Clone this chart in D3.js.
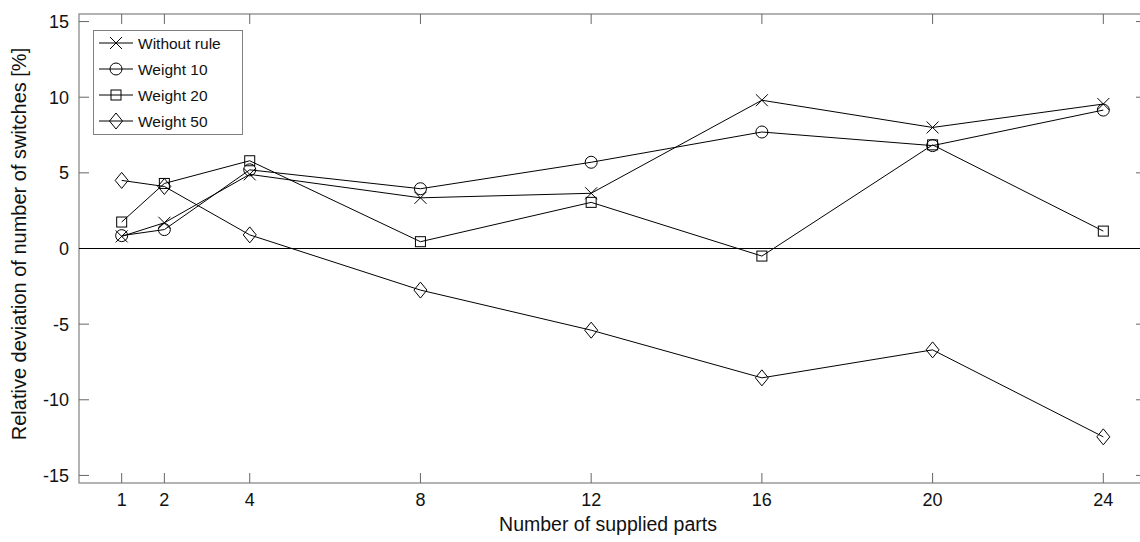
<!DOCTYPE html>
<html>
<head>
<meta charset="utf-8">
<script src="https://cdn.jsdelivr.net/npm/d3@7"></script>
<style>
  body { margin: 0; background: #fff; }
  text { font-family: "Liberation Sans", Arial, sans-serif; fill: #111; }
</style>
</head>
<body>
<script>
// data
var parts = [1, 2, 4, 8, 12, 16, 20, 24];
var withoutRule = [0.8, 1.7, 4.9, 3.35, 3.65, 9.8, 8.0, 9.55];
var weight10 = [0.85, 1.25, 5.2, 3.95, 5.7, 7.7, 6.8, 9.15];
var weight20 = [1.75, 4.3, 5.8, 0.45, 3.05, -0.5, 6.85, 1.15];
var weight50 = [4.5, 4.1, 0.9, -2.75, -5.4, -8.55, -6.7, -12.45];
var yTicks = [-15, -10, -5, 0, 5, 10, 15];

var series = [
    {name: "Without rule", values: withoutRule, marker: "x"},
    {name: "Weight 10", values: weight10, marker: "circle"},
    {name: "Weight 20", values: weight20, marker: "square"},
    {name: "Weight 50", values: weight50, marker: "diamond"}
];

var W = 1140, H = 542;
var margin = {top: 14, right: -6, bottom: 59, left: 79};

var svg = d3.select("body").append("svg")
    .attr("width", W)
    .attr("height", H);

var x = d3.scaleLinear().domain([0, 25]).range([margin.left, W - margin.right]);
var y = d3.scaleLinear().domain([-15.5, 15.5]).range([H - margin.bottom, margin.top]);

var plotLeft = x.range()[0], plotRight = x.range()[1];
var plotTop = y.range()[1], plotBottom = y.range()[0];
var tickLen = 10;

// box
svg.append("rect")
    .attr("x", plotLeft).attr("y", plotTop)
    .attr("width", plotRight - plotLeft).attr("height", plotBottom - plotTop)
    .attr("fill", "none").attr("stroke", "#808080").attr("stroke-width", 1.2);

// x ticks (inward, bottom and top)
var xt = svg.append("g");
parts.forEach(function (p) {
    xt.append("line").attr("x1", x(p)).attr("x2", x(p))
        .attr("y1", plotBottom).attr("y2", plotBottom - tickLen)
        .attr("stroke", "#666");
    xt.append("line").attr("x1", x(p)).attr("x2", x(p))
        .attr("y1", plotTop).attr("y2", plotTop + tickLen)
        .attr("stroke", "#666");
    xt.append("text").attr("x", x(p)).attr("y", 505.5)
        .attr("text-anchor", "middle").attr("font-size", 18)
        .text(p);
});

// y ticks (inward, left and right)
var yt = svg.append("g");
yTicks.forEach(function (v) {
    yt.append("line").attr("x1", plotLeft).attr("x2", plotLeft + tickLen)
        .attr("y1", y(v)).attr("y2", y(v)).attr("stroke", "#666");
    yt.append("line").attr("x1", plotRight).attr("x2", plotRight - tickLen)
        .attr("y1", y(v)).attr("y2", y(v)).attr("stroke", "#666");
    yt.append("text").attr("x", plotLeft - 10).attr("y", y(v) + 6.5)
        .attr("text-anchor", "end").attr("font-size", 18)
        .text(v);
});

// zero line
svg.append("line")
    .attr("x1", plotLeft).attr("x2", plotRight)
    .attr("y1", y(0)).attr("y2", y(0))
    .attr("stroke", "#000").attr("stroke-width", 1);

// axis labels
svg.append("text")
    .attr("x", 608).attr("y", 531)
    .attr("text-anchor", "middle").attr("font-size", 19.5)
    .text("Number of supplied parts");

svg.append("text")
    .attr("transform", "translate(26," + 244 + ") rotate(-90)")
    .attr("text-anchor", "middle").attr("font-size", 20)
    .text("Relative deviation of number of switches [%]");

function drawMarker(g, type, cx, cy) {
    if (type == "x") {
        g.append("path")
            .attr("d", "M" + (cx - 6) + "," + (cy - 6) + "L" + (cx + 6) + "," + (cy + 6) +
                "M" + (cx - 6) + "," + (cy + 6) + "L" + (cx + 6) + "," + (cy - 6))
            .attr("stroke", "#000").attr("fill", "none");
    } else if (type == "circle") {
        g.append("circle").attr("cx", cx).attr("cy", cy).attr("r", 6)
            .attr("stroke", "#000").attr("fill", "none");
    } else if (type == "square") {
        g.append("rect").attr("x", cx - 5).attr("y", cy - 5)
            .attr("width", 10).attr("height", 10)
            .attr("stroke", "#000").attr("fill", "none");
    } else if (type == "diamond") {
        g.append("path")
            .attr("d", "M" + cx + "," + (cy - 8) + "L" + (cx + 6.5) + "," + cy +
                "L" + cx + "," + (cy + 8) + "L" + (cx - 6.5) + "," + cy + "Z")
            .attr("stroke", "#000").attr("fill", "none");
    }
}

var line = d3.line()
    .x(function (d, i) { return x(parts[i]); })
    .y(function (d) { return y(d); });

series.forEach(function (s) {
    var g = svg.append("g");
    g.append("path")
        .attr("d", line(s.values))
        .attr("fill", "none").attr("stroke", "#000").attr("stroke-width", 1);
    s.values.forEach(function (v, i) {
        drawMarker(g, s.marker, x(parts[i]), y(v));
    });
});

// legend
var lg = svg.append("g");
lg.append("rect")
    .attr("x", 93.5).attr("y", 30.5).attr("width", 149).attr("height", 104)
    .attr("fill", "#fff").attr("stroke", "#808080");
series.forEach(function (s, i) {
    var ly = 43 + i * 26;
    lg.append("line").attr("x1", 99).attr("x2", 133)
        .attr("y1", ly).attr("y2", ly).attr("stroke", "#000");
    drawMarker(lg, s.marker, 116, ly);
    lg.append("text").attr("x", 138).attr("y", ly + 5.5)
        .attr("font-size", 15.5).text(s.name);
});
</script>
</body>
</html>
